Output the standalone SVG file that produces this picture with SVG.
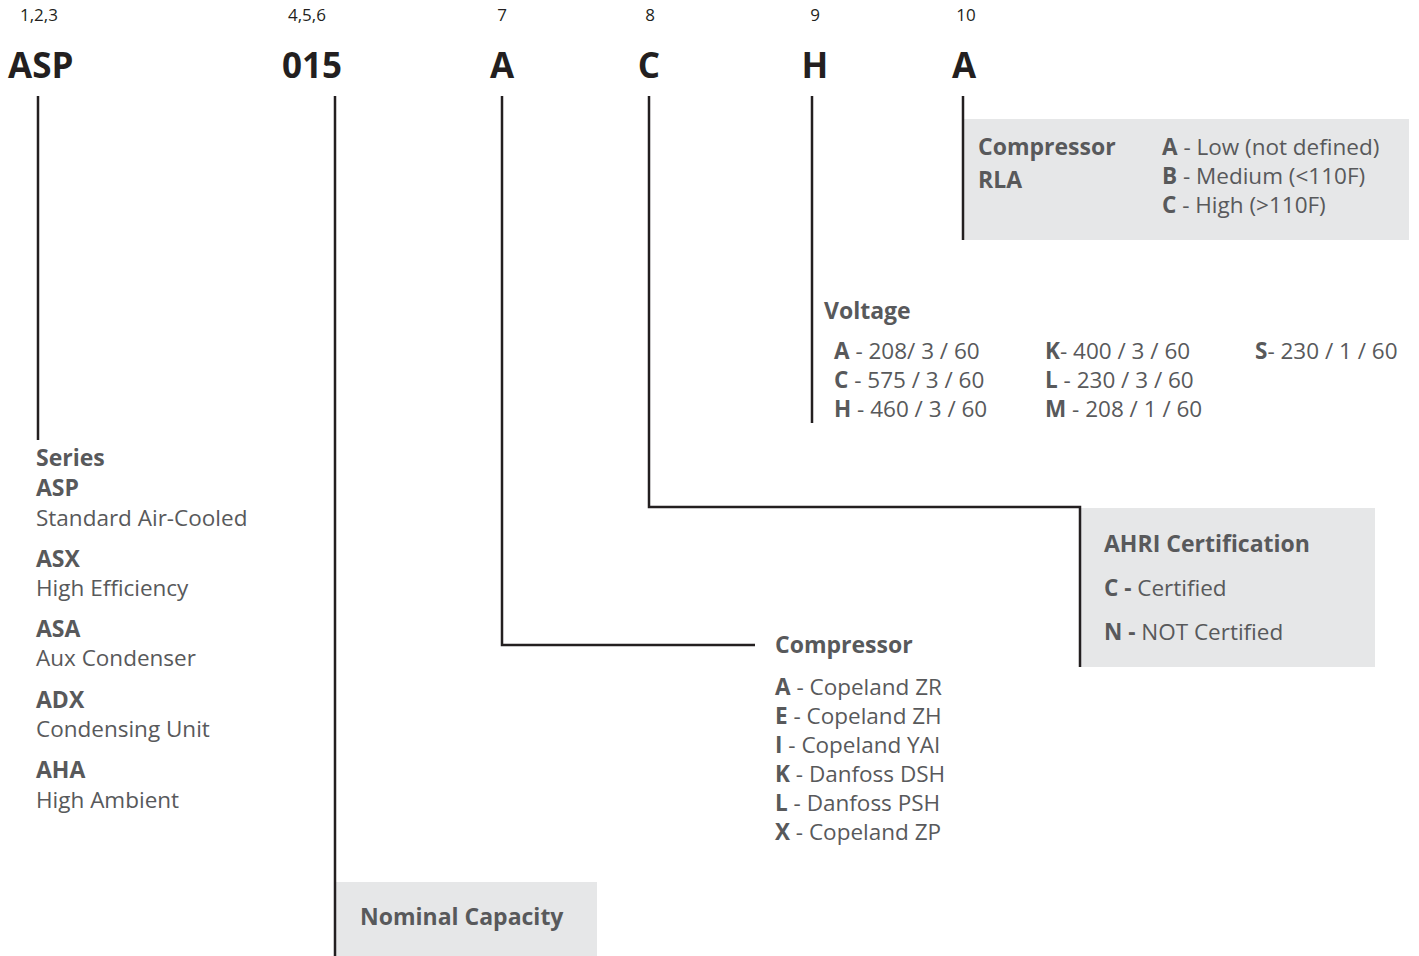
<svg xmlns="http://www.w3.org/2000/svg" width="1419" height="956" viewBox="0 0 1419 956">
<style>
.num{font-family:"Open Sans","Liberation Sans",sans-serif;font-size:17px;fill:#231f20}
.big{font-family:"Open Sans","Liberation Sans",sans-serif;font-size:35px;font-weight:bold;fill:#231f20}
.t{font-family:"Open Sans","Liberation Sans",sans-serif;font-size:22.5px;fill:#58595b}
.h{font-family:"Open Sans","Liberation Sans",sans-serif;font-size:23px;font-weight:bold;fill:#58595b}
.b{font-weight:bold}
.box{fill:#e6e7e8}
.ln{fill:none;stroke:#231f20;stroke-width:2.5}
</style>
<rect width="1419" height="956" fill="#fff"/>
<g id="header">
<text class="num" x="20" y="21">1,2,3</text>
<text class="num" x="288" y="21">4,5,6</text>
<text class="num" x="502" y="21" text-anchor="middle">7</text>
<text class="num" x="650" y="21" text-anchor="middle">8</text>
<text class="num" x="815" y="21" text-anchor="middle">9</text>
<text class="num" x="966" y="21" text-anchor="middle">10</text>
<text class="big" x="8" y="78">ASP</text>
<text class="big" x="282" y="78">015</text>
<text class="big" x="502" y="78" text-anchor="middle">A</text>
<text class="big" x="649" y="78" text-anchor="middle">C</text>
<text class="big" x="815" y="78" text-anchor="middle">H</text>
<text class="big" x="964" y="78" text-anchor="middle">A</text>
</g>
<g id="rla">
<rect class="box" x="963" y="119" width="446" height="121"/>
<text class="h" x="978" y="155">Compressor</text>
<text class="h" x="978" y="188">RLA</text>
<text class="t" x="1162" y="155"><tspan class="b">A</tspan> - Low (not defined)</text>
<text class="t" x="1162" y="184"><tspan class="b">B</tspan> - Medium (&lt;110F)</text>
<text class="t" x="1162" y="213"><tspan class="b">C</tspan> - High (&gt;110F)</text>
</g>
<g id="voltage">
<text class="h" x="824" y="319">Voltage</text>
<text class="t" x="834" y="359"><tspan class="b">A</tspan> - 208/ 3 / 60</text>
<text class="t" x="834" y="388"><tspan class="b">C</tspan> - 575 / 3 / 60</text>
<text class="t" x="834" y="417"><tspan class="b">H</tspan> - 460 / 3 / 60</text>
<text class="t" x="1045" y="359"><tspan class="b">K</tspan>- 400 / 3 / 60</text>
<text class="t" x="1045" y="388"><tspan class="b">L</tspan> - 230 / 3 / 60</text>
<text class="t" x="1045" y="417"><tspan class="b">M</tspan> - 208 / 1 / 60</text>
<text class="t" x="1255" y="359"><tspan class="b">S</tspan>- 230 / 1 / 60</text>
</g>
<g id="ahri">
<rect class="box" x="1080" y="508" width="295" height="159"/>
<text class="h" x="1104" y="552">AHRI Certification</text>
<text class="t" x="1104" y="596"><tspan class="b">C -</tspan> Certified</text>
<text class="t" x="1104" y="640"><tspan class="b">N -</tspan> NOT Certified</text>
</g>
<g id="compressor">
<text class="h" x="775" y="653">Compressor</text>
<text class="t" x="775" y="695"><tspan class="b">A</tspan> - Copeland ZR</text>
<text class="t" x="775" y="724"><tspan class="b">E</tspan> - Copeland ZH</text>
<text class="t" x="775" y="753"><tspan class="b">I</tspan> - Copeland YAI</text>
<text class="t" x="775" y="782"><tspan class="b">K</tspan> - Danfoss DSH</text>
<text class="t" x="775" y="811"><tspan class="b">L</tspan> - Danfoss PSH</text>
<text class="t" x="775" y="840"><tspan class="b">X</tspan> - Copeland ZP</text>
</g>
<g id="series">
<text class="h" x="36" y="466">Series</text>
<text class="h" x="36" y="496">ASP</text>
<text class="t" x="36" y="526">Standard Air-Cooled</text>
<text class="h" x="36" y="567">ASX</text>
<text class="t" x="36" y="596">High Efficiency</text>
<text class="h" x="36" y="637">ASA</text>
<text class="t" x="36" y="666">Aux Condenser</text>
<text class="h" x="36" y="708">ADX</text>
<text class="t" x="36" y="737">Condensing Unit</text>
<text class="h" x="36" y="778">AHA</text>
<text class="t" x="36" y="808">High Ambient</text>
</g>
<g id="capacity">
<rect class="box" x="335" y="882" width="262" height="74"/>
<text class="h" x="360" y="925">Nominal Capacity</text>
</g>
<g id="connectors">
<path class="ln" d="M38 96V440"/>
<path class="ln" d="M335 96V956"/>
<path class="ln" d="M502 96V645H755"/>
<path class="ln" d="M649 96V507H1080V667"/>
<path class="ln" d="M812 96V423"/>
<path class="ln" d="M963 96V240"/>
</g>
</svg>
